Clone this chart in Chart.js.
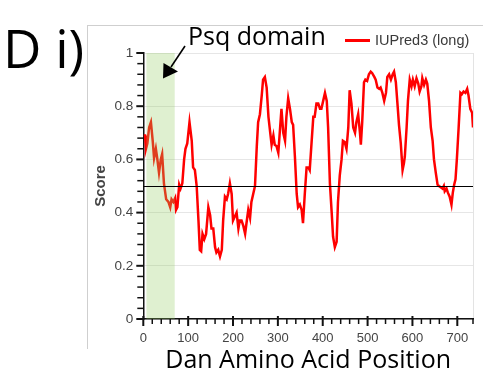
<!DOCTYPE html>
<html>
<head>
<meta charset="utf-8">
<script src="https://cdn.jsdelivr.net/npm/chart.js@4.4.1/dist/chart.umd.min.js"></script>
<style>
  html, body { margin: 0; padding: 0; background: #fff; }
  #wrap { position: relative; width: 483px; height: 376px; overflow: hidden; }
  #chart { position: absolute; left: 0; top: 0; }
  .frame { position: absolute; left: 87px; top: 25px; width: 420px; height: 323px;
           border-top: 1px solid #cfcfcf; border-left: 1px solid #cfcfcf; }
  .panel { position: absolute; left: 3px; top: 21px; font: 53px/1 'Open Sans', sans-serif; color: #000; }
  .domain { position: absolute; left: 188px; top: 22.5px; font: 25px/1 'Open Sans', sans-serif; color: #000; white-space: nowrap; }
  .legend { position: absolute; left: 345px; top: 31px; height: 18px; font: 14.5px 'Liberation Sans', Arial, sans-serif; color: #3a3a3a; white-space: nowrap; }
  .legend i { position: absolute; left: 0; top: 8px; width: 25px; height: 2.5px; background: #ff0000; }
  .legend span { position: absolute; left: 30px; top: 0; line-height: 18px; }
  svg { position: absolute; left: 0; top: 0; }
</style>
</head>
<body>
<div id="wrap">
  <div class="frame"></div>
  <canvas id="chart" width="483" height="376"></canvas>
  <div class="panel">D i)</div>
  <div class="domain">Psq domain</div>
  <div class="legend"><i></i><span>IUPred3 (long)</span></div>
  <svg width="483" height="376">
    <line x1="185" y1="46" x2="171" y2="67" stroke="#000" stroke-width="1.6"/>
    <polygon points="163,78.5 163.5,63 178,71.5" fill="#000"/>
  </svg>
</div>
<script>
// residue positions and IUPred3 (long) disorder scores
const positions = [
  1, 4, 6, 9, 13, 17, 21, 24, 28, 31, 35, 39, 42, 46, 51, 56, 60, 63, 67, 71,
  73, 76, 80, 83, 87, 91, 94, 98, 103, 108, 111, 115, 119, 123, 126, 129, 132, 136, 140, 145,
  149, 152, 156, 160, 163, 167, 171, 175, 178, 182, 186, 189, 193, 197, 200, 204, 208, 212, 215, 219,
  223, 227, 230, 234, 238, 241, 245, 249, 253, 256, 260, 264, 267, 271, 275, 279, 283, 286, 290, 293,
  297, 301, 305, 308, 312, 316, 319, 323, 327, 331, 334, 338, 342, 345, 349, 353, 356, 360, 364, 368,
  371, 375, 379, 382, 386, 390, 394, 397, 401, 405, 409, 412, 416, 420, 423, 427, 431, 434, 438, 442,
  445, 449, 453, 457, 460, 464, 468, 472, 475, 479, 483, 485, 488, 492, 495, 499, 503, 507, 510, 515,
  518, 522, 526, 529, 533, 537, 541, 544, 548, 552, 556, 559, 563, 567, 570, 574, 578, 581, 583, 587,
  590, 594, 598, 601, 605, 609, 613, 616, 620, 622, 626, 630, 633, 637, 641, 645, 648, 652, 656, 659,
  663, 667, 670, 672, 676, 679, 683, 687, 690, 693, 696, 699, 703, 707, 710, 714, 718, 722, 725, 729,
  733, 735
];
const scores = [
  0.69, 0.69, 0.64, 0.66, 0.72, 0.74, 0.67, 0.605, 0.64, 0.605, 0.55, 0.60, 0.62, 0.51, 0.45, 0.44, 0.42, 0.45, 0.44, 0.455,
  0.41, 0.42, 0.505, 0.49, 0.51, 0.60, 0.64, 0.66, 0.74, 0.67, 0.57, 0.56, 0.50, 0.37, 0.26, 0.255, 0.32, 0.30, 0.32, 0.42,
  0.39, 0.34, 0.34, 0.27, 0.25, 0.26, 0.235, 0.26, 0.37, 0.46, 0.45, 0.47, 0.51, 0.47, 0.37, 0.385, 0.40, 0.34, 0.37, 0.37,
  0.35, 0.32, 0.36, 0.41, 0.38, 0.44, 0.47, 0.50, 0.65, 0.74, 0.77, 0.84, 0.90, 0.91, 0.87, 0.76, 0.70, 0.655, 0.69, 0.655,
  0.65, 0.625, 0.72, 0.79, 0.70, 0.67, 0.76, 0.83, 0.79, 0.74, 0.73, 0.61, 0.47, 0.42, 0.43, 0.41, 0.36, 0.47, 0.57, 0.57,
  0.56, 0.66, 0.76, 0.76, 0.81, 0.81, 0.79, 0.79, 0.82, 0.85, 0.82, 0.72, 0.51, 0.40, 0.31, 0.27, 0.29, 0.44, 0.54, 0.60,
  0.67, 0.665, 0.64, 0.72, 0.86, 0.81, 0.72, 0.70, 0.74, 0.77, 0.70, 0.655, 0.74, 0.89, 0.90, 0.895, 0.92, 0.93, 0.925, 0.91,
  0.90, 0.87, 0.865, 0.87, 0.85, 0.82, 0.85, 0.91, 0.92, 0.90, 0.92, 0.93, 0.89, 0.80, 0.73, 0.66, 0.56, 0.585, 0.61, 0.72,
  0.82, 0.90, 0.875, 0.90, 0.875, 0.905, 0.885, 0.855, 0.875, 0.905, 0.88, 0.90, 0.885, 0.82, 0.72, 0.67, 0.60, 0.55, 0.505, 0.50,
  0.495, 0.49, 0.50, 0.48, 0.49, 0.475, 0.46, 0.43, 0.475, 0.505, 0.525, 0.60, 0.72, 0.85, 0.845, 0.855, 0.85, 0.865, 0.84, 0.79,
  0.775, 0.72
];
const xTickLabels = [0, 100, 200, 300, 400, 500, 600, 700];
const yTickLabels = [0, 0.2, 0.4, 0.6, 0.8, 1];
const psqDomain = [7, 70];
const threshold = 0.5;

const isLabelled = (list, v) => list.some(t => Math.abs(t - v) < 1e-6);

// green Psq box over the curve, then the 0.5 cut-off line
const overlay = {
  id: 'overlay',
  afterDatasetsDraw(chart) {
    const { ctx, chartArea, scales: { x, y } } = chart;
    const x0 = x.getPixelForValue(psqDomain[0]);
    const x1 = x.getPixelForValue(psqDomain[1]);
    ctx.save();
    ctx.fillStyle = 'rgba(148, 205, 98, 0.3)';
    ctx.fillRect(x0, y.getPixelForValue(1), x1 - x0, y.getPixelForValue(0) - y.getPixelForValue(1));
    const yt = Math.round(y.getPixelForValue(threshold)) + 0.5;
    ctx.strokeStyle = '#000';
    ctx.lineWidth = 1;
    ctx.beginPath();
    ctx.moveTo(chartArea.left, yt);
    ctx.lineTo(chartArea.right, yt);
    ctx.stroke();
    ctx.restore();
  }
};

// comb of black tick marks on both axes (major ones heavier / longer)
const tickMarks = {
  id: 'tickMarks',
  afterDraw(chart) {
    const { ctx, chartArea, scales: { x, y } } = chart;
    ctx.save();
    ctx.strokeStyle = '#111';
    x.ticks.forEach(t => {
      const major = isLabelled(xTickLabels, t.value);
      const px = x.getPixelForValue(t.value);
      ctx.lineWidth = major ? 2 : 1.5;
      ctx.beginPath();
      ctx.moveTo(px, chartArea.bottom - (major ? 3 : 0));
      ctx.lineTo(px, chartArea.bottom + (major ? 7 : 5));
      ctx.stroke();
    });
    y.ticks.forEach(t => {
      const major = isLabelled(yTickLabels, t.value);
      const py = y.getPixelForValue(t.value);
      ctx.lineWidth = major ? 2 : 1.5;
      ctx.beginPath();
      ctx.moveTo(chartArea.left, py);
      ctx.lineTo(chartArea.left - (major ? 7 : 6), py);
      ctx.stroke();
    });
    ctx.restore();
  }
};

new Chart(document.getElementById('chart'), {
  type: 'line',
  data: {
    datasets: [{
      label: 'IUPred3 (long)',
      data: positions.map((p, i) => ({ x: p, y: scores[i] })),
      borderColor: '#ff0000',
      borderWidth: 2.5,
      pointRadius: 0,
      tension: 0,
      fill: false
    }]
  },
  options: {
    responsive: false,
    animation: false,
    layout: { padding: { left: 92, top: 53, right: 10, bottom: 0 } },
    plugins: { legend: { display: false }, tooltip: { enabled: false } },
    scales: {
      x: {
        type: 'linear',
        min: 0,
        max: 735,
        afterFit: s => { s.height = 57; },
        border: { color: '#111', width: 1.5 },
        grid: {
          color: c => (c.tick && c.tick.value === 735 ? '#e3e3e3' : 'rgba(0,0,0,0)'),
          tickColor: 'rgba(0,0,0,0)',
          tickLength: 7
        },
        ticks: {
          stepSize: 20,
          autoSkip: false,
          maxRotation: 0,
          padding: 5,
          color: '#444',
          font: { family: "'Liberation Sans', Arial, sans-serif", size: 13 },
          callback: v => (isLabelled(xTickLabels, v) ? String(v) : '')
        },
        title: {
          display: true,
          text: 'Dan Amino Acid Position',
          color: '#000',
          font: { family: "'Open Sans', sans-serif", size: 25 },
          padding: { top: 0, bottom: 0 }
        }
      },
      y: {
        min: 0,
        max: 1,
        afterFit: s => { s.width = 51.3; },
        border: { color: '#111', width: 1.5 },
        grid: {
          color: c => (c.tick && isLabelled(yTickLabels, c.tick.value) ? '#e6e6e6' : 'rgba(0,0,0,0)'),
          tickColor: 'rgba(0,0,0,0)',
          tickLength: 6
        },
        ticks: {
          stepSize: 0.04,
          autoSkip: false,
          padding: 4,
          color: '#444',
          font: { family: "'Liberation Sans', Arial, sans-serif", size: 13.5 },
          callback: v => {
            if (!isLabelled(yTickLabels, v)) return '';
            const r = Math.round(v * 10) / 10;
            return r === 0 || r === 1 ? String(r) : r.toFixed(1);
          }
        },
        title: {
          display: true,
          text: 'Score',
          color: '#444',
          font: { family: "'Liberation Sans', Arial, sans-serif", size: 15, weight: 'bold' },
          padding: { top: 0, bottom: 0 }
        }
      }
    }
  },
  plugins: [overlay, tickMarks]
});
</script>
</body>
</html>
